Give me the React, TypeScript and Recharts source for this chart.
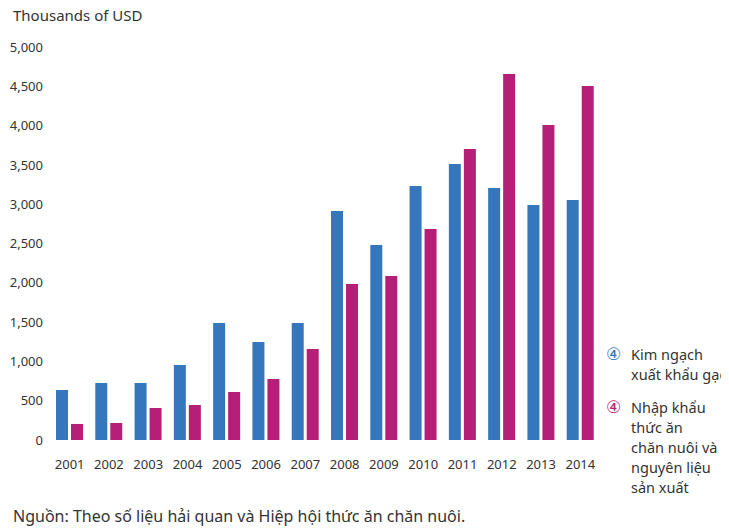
import { Bar, BarChart, XAxis, YAxis } from "recharts";

const years = ["2001", "2002", "2003", "2004", "2005", "2006", "2007", "2008", "2009", "2010", "2011", "2012", "2013", "2014"];
const riceExports = [636, 725, 725, 954, 1489, 1247, 1489, 2913, 2481, 3232, 3511, 3206, 2990, 3053];
const feedImports = [204, 216, 407, 445, 611, 776, 1158, 1985, 2087, 2684, 3702, 4656, 4008, 4504];
const yTicks = [0, 500, 1000, 1500, 2000, 2500, 3000, 3500, 4000, 4500, 5000];

const BLUE = "#3676bc";
const MAGENTA = "#b51f77";
const FONT = "'Noto Sans', 'DejaVu Sans', sans-serif";

const data = years.map((year, i) => ({
	year,
	rice: riceExports[i],
	feed: feedImports[i],
}));

const legendItems = [
	{ color: BLUE, lines: ["Kim ngạch", "xuất khẩu gạo"] },
	{ color: MAGENTA, lines: ["Nhập khẩu", "thức ăn", "chăn nuôi và", "nguyên liệu", "sản xuất"] },
];

export default function App() {
	return (
		<div
			style={{
				position: "relative",
				width: 729,
				height: 529,
				margin: "-8px 0 0 -8px",
				background: "#fff",
				fontFamily: FONT,
				color: "#333",
				overflow: "hidden",
			}}
		>
			<div style={{ position: "absolute", left: 5, top: 0, width: 1, height: 529, background: "#b3bb80" }} />
			<div style={{ position: "absolute", left: 13, top: 5, fontSize: 15 }}>Thousands of USD</div>
			<BarChart
				width={729}
				height={529}
				data={data}
				margin={{ top: 47, right: 129, bottom: 59, left: 0 }}
				barSize={12}
				barGap={3}
			>
				<XAxis
					dataKey="year"
					axisLine={false}
					tickLine={false}
					height={30}
					tickMargin={14}
					tick={{ fill: "#333", fontSize: 13, fontFamily: FONT }}
				/>
				<YAxis
					domain={[0, 5000]}
					ticks={yTicks}
					width={50}
					axisLine={false}
					tickLine={false}
					tickSize={5}
					tickMargin={2}
					tickFormatter={(v: number) => v.toLocaleString("en-US")}
					tick={{ fill: "#333", fontSize: 13, fontFamily: FONT }}
				/>
				<Bar dataKey="rice" fill={BLUE} isAnimationActive={false} />
				<Bar dataKey="feed" fill={MAGENTA} isAnimationActive={false} />
			</BarChart>
			{legendItems.map((item, i) => (
				<div
					key={i}
					style={{
						position: "absolute",
						left: 606,
						top: i === 0 ? 344 : 397,
						display: "flex",
						fontSize: 14.5,
						lineHeight: "20px",
						whiteSpace: "nowrap",
					}}
				>
					<span style={{ color: item.color, width: 25, fontSize: 17, lineHeight: "20px" }}>④</span>
					<span>
						{item.lines.map((l, j) => (
							<div key={j}>{l}</div>
						))}
					</span>
				</div>
			))}
			<div style={{ position: "absolute", left: 13, top: 505, fontSize: 16 }}>
				Nguồn: Theo số liệu hải quan và Hiệp hội thức ăn chăn nuôi.
			</div>
		</div>
	);
}
